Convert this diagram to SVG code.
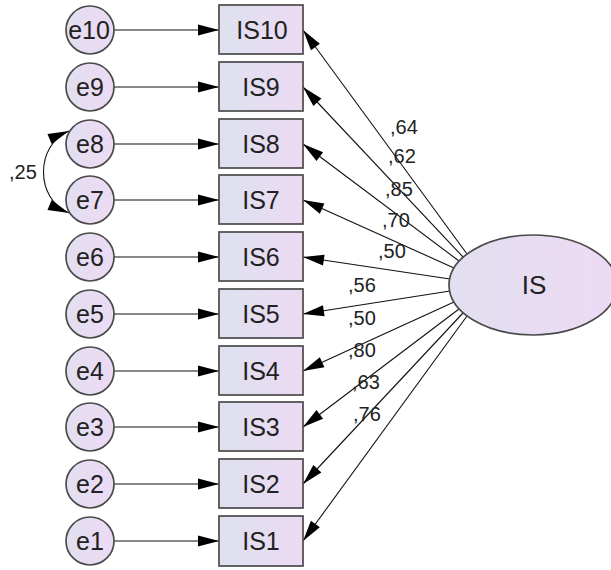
<svg xmlns="http://www.w3.org/2000/svg" width="611" height="570" viewBox="0 0 611 570">
<style>
.nd{stroke:#4a4a4a;stroke-width:1.7}
.bx{fill:url(#gb)}
.ci{fill:url(#gc)}
.t{font-family:"Liberation Sans",Arial,sans-serif;font-size:25px;fill:#222;text-anchor:middle}
.lb{font-family:"Liberation Sans",Arial,sans-serif;font-size:20px;fill:#222}
.ln{stroke:#111;stroke-width:1.1;fill:none;marker-end:url(#ah)}
</style>
<defs>
<linearGradient id="gb" x1="0" y1="0" x2="1" y2="0"><stop offset="0" stop-color="#dde1ee"/><stop offset="1" stop-color="#eddaf4"/></linearGradient>
<linearGradient id="gc" x1="0" y1="0" x2="1" y2="0"><stop offset="0" stop-color="#e2dff0"/><stop offset="1" stop-color="#eddaf4"/></linearGradient>
<marker id="ah" markerUnits="userSpaceOnUse" markerWidth="21" markerHeight="11" refX="21" refY="5.5" orient="auto-start-reverse" overflow="visible"><path d="M0,0 L21,5.5 L0,11 z" fill="#000"/></marker>
</defs>
<g id="connectors">
<line class="ln" x1="114" y1="30" x2="219" y2="30"/>
<line class="ln" x1="114" y1="87" x2="219" y2="87"/>
<line class="ln" x1="114" y1="144" x2="219" y2="144"/>
<line class="ln" x1="114" y1="200" x2="219" y2="200"/>
<line class="ln" x1="114" y1="257" x2="219" y2="257"/>
<line class="ln" x1="114" y1="314" x2="219" y2="314"/>
<line class="ln" x1="114" y1="371" x2="219" y2="371"/>
<line class="ln" x1="114" y1="427" x2="219" y2="427"/>
<line class="ln" x1="114" y1="484" x2="219" y2="484"/>
<line class="ln" x1="114" y1="541" x2="219" y2="541"/>
<line class="ln" x1="467" y1="254" x2="303" y2="30"/>
<line class="ln" x1="463" y1="257" x2="303" y2="87"/>
<line class="ln" x1="459" y1="261" x2="303" y2="144"/>
<line class="ln" x1="454" y1="268" x2="303" y2="200"/>
<line class="ln" x1="450" y1="279" x2="303" y2="257"/>
<line class="ln" x1="450" y1="291" x2="303" y2="314"/>
<line class="ln" x1="454" y1="302" x2="303" y2="371"/>
<line class="ln" x1="459" y1="309" x2="303" y2="427"/>
<line class="ln" x1="463" y1="313" x2="303" y2="484"/>
<line class="ln" x1="467" y1="316" x2="303" y2="541"/>
<path class="ln" d="M69,131 C35,145 35,199 69,213" marker-start="url(#ah)"/>
</g>
<g id="labels">
<text class="lb" x="390" y="134">,64</text>
<text class="lb" x="388" y="163">,62</text>
<text class="lb" x="385" y="196">,85</text>
<text class="lb" x="382" y="227">,70</text>
<text class="lb" x="378" y="258">,50</text>
<text class="lb" x="348" y="292">,56</text>
<text class="lb" x="348" y="325">,50</text>
<text class="lb" x="348" y="357">,80</text>
<text class="lb" x="352" y="389">,63</text>
<text class="lb" x="353" y="421">,76</text>
<text class="lb" x="9" y="179">,25</text>
</g>
<g id="IS"><ellipse class="nd ci" cx="533" cy="285" rx="84" ry="50"/><text class="t" x="534" y="294" style="font-size:26px">IS</text></g>
<g id="IS10"><rect class="nd bx" x="219" y="5" width="84" height="49"/><text class="t" x="262" y="39">IS10</text></g>
<g id="IS9"><rect class="nd bx" x="219" y="62" width="84" height="49"/><text class="t" x="261" y="96">IS9</text></g>
<g id="IS8"><rect class="nd bx" x="219" y="119" width="84" height="49"/><text class="t" x="261" y="153">IS8</text></g>
<g id="IS7"><rect class="nd bx" x="219" y="175" width="84" height="49"/><text class="t" x="261" y="209">IS7</text></g>
<g id="IS6"><rect class="nd bx" x="219" y="232" width="84" height="49"/><text class="t" x="261" y="266">IS6</text></g>
<g id="IS5"><rect class="nd bx" x="219" y="289" width="84" height="49"/><text class="t" x="261" y="323">IS5</text></g>
<g id="IS4"><rect class="nd bx" x="219" y="346" width="84" height="49"/><text class="t" x="261" y="380">IS4</text></g>
<g id="IS3"><rect class="nd bx" x="219" y="402" width="84" height="49"/><text class="t" x="261" y="436">IS3</text></g>
<g id="IS2"><rect class="nd bx" x="219" y="459" width="84" height="49"/><text class="t" x="261" y="493">IS2</text></g>
<g id="IS1"><rect class="nd bx" x="219" y="516" width="84" height="50"/><text class="t" x="261" y="550">IS1</text></g>
<g id="e10"><circle class="nd ci" cx="90" cy="30" r="24"/><text class="t" x="89" y="39">e10</text></g>
<g id="e9"><circle class="nd ci" cx="90" cy="87" r="24"/><text class="t" x="90" y="96">e9</text></g>
<g id="e8"><circle class="nd ci" cx="90" cy="144" r="24"/><text class="t" x="90" y="153">e8</text></g>
<g id="e7"><circle class="nd ci" cx="90" cy="200" r="24"/><text class="t" x="90" y="209">e7</text></g>
<g id="e6"><circle class="nd ci" cx="90" cy="257" r="24"/><text class="t" x="90" y="266">e6</text></g>
<g id="e5"><circle class="nd ci" cx="90" cy="314" r="24"/><text class="t" x="90" y="323">e5</text></g>
<g id="e4"><circle class="nd ci" cx="90" cy="371" r="24"/><text class="t" x="90" y="380">e4</text></g>
<g id="e3"><circle class="nd ci" cx="90" cy="427" r="24"/><text class="t" x="90" y="436">e3</text></g>
<g id="e2"><circle class="nd ci" cx="90" cy="484" r="24"/><text class="t" x="90" y="493">e2</text></g>
<g id="e1"><circle class="nd ci" cx="90" cy="541" r="24"/><text class="t" x="90" y="550">e1</text></g>
</svg>
